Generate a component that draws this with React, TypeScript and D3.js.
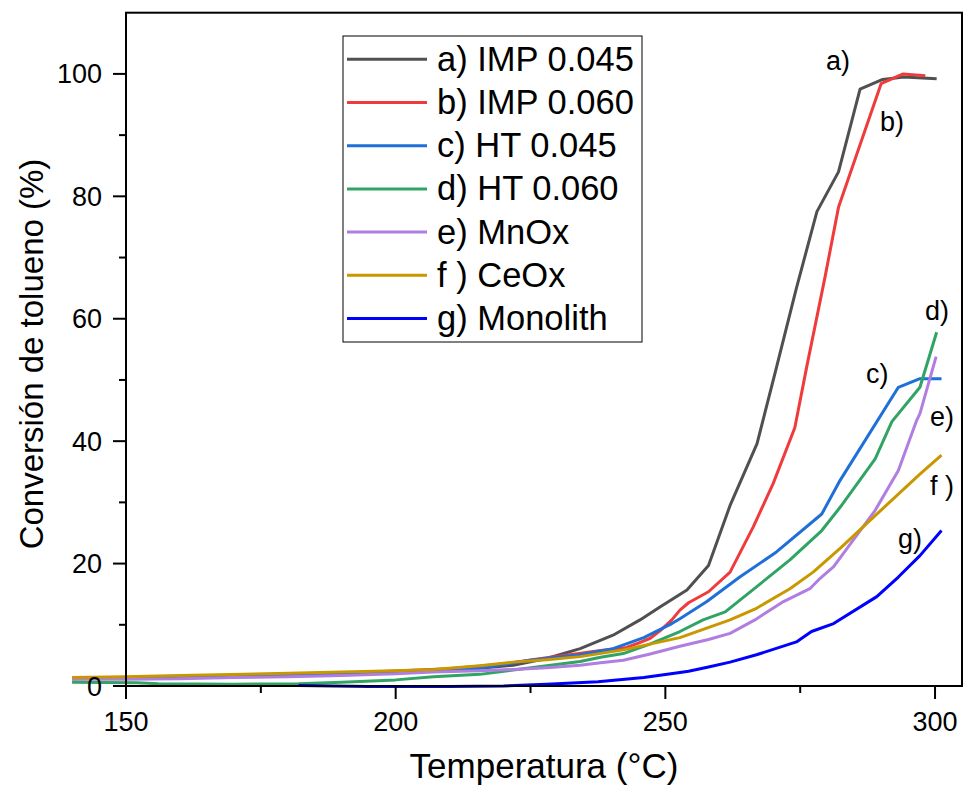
import React from "react";
import * as d3 from "d3";

const seriesNames = ["a) IMP 0.045", "b) IMP 0.060", "c) HT 0.045", "d) HT 0.060", "e) MnOx", "f ) CeOx", "g) Monolith"];
const seriesColors = ["#505050", "#ef3b3b", "#1f6fd9", "#30a465", "#b07ee0", "#c99700", "#0000ff"];
const curveLabels = ["a)", "b)", "c)", "d)", "e)", "f )", "g)"];

const tA = [140, 150, 160, 170, 180, 190, 200, 210, 215.6, 221.8, 228, 234.2, 240.3, 245.3, 249, 254, 258, 262, 267, 270.3, 274.3, 278.1, 282.1, 286.1, 290.3, 294.2, 300.3];
const vA = [1.2, 1.3, 1.5, 1.7, 1.9, 2.1, 2.3, 2.6, 2.9, 3.4, 4.5, 6.1, 8.3, 10.8, 12.9, 15.7, 19.7, 29.5, 39.6, 51, 65, 77.5, 84, 97.5, 99.1, 99.5, 99.2];

const tB = [140, 150, 170, 190, 210, 220, 228, 234, 238, 242.8, 245, 247.2, 249, 251.2, 252.7, 254.3, 258, 262, 266.3, 270, 274, 276.2, 279.6, 282.1, 290, 294.1, 298.2];
const vB = [1.2, 1.3, 1.7, 2.1, 2.8, 3.6, 4.6, 5.3, 5.8, 6.3, 7.0, 7.8, 9.0, 10.8, 12.4, 13.6, 15.4, 18.6, 26.0, 33.1, 42.2, 52.1, 66.8, 78.2, 98.4, 100.0, 99.7];

const tC = [140, 150, 170, 190, 210, 215.6, 224.9, 234.2, 240.3, 246, 251.2, 252.7, 257.7, 263.8, 270.6, 279, 282.4, 293.2, 297.2, 301.2];
const vC = [1.3, 1.4, 1.7, 2.1, 2.7, 2.9, 4.2, 5.1, 6.1, 7.9, 10.2, 11.0, 13.8, 17.8, 21.9, 28.1, 33.6, 48.8, 50.2, 50.2];

const tD = [140, 152, 156, 170, 182, 190, 200, 207, 215.6, 221.8, 228, 234.2, 238, 242.2, 247, 252.7, 257, 261.1, 266.9, 273.1, 279, 282.4, 288.9, 292, 297.2, 300.3];
const vD = [0.6, 0.55, 0.35, 0.3, 0.35, 0.6, 1.0, 1.5, 1.9, 2.6, 3.3, 4.0, 4.7, 5.3, 6.8, 8.9, 10.8, 12.1, 16.2, 20.6, 25.4, 29.2, 37.1, 43.2, 48.8, 57.8];

const tE = [140, 150, 160, 170, 180, 190, 200, 207, 215.6, 221.8, 228, 234.2, 238, 242.2, 247, 252.7, 258, 262, 266.6, 271.9, 276.8, 278.7, 281.2, 288.9, 293.2, 296.6, 297.2, 300.2];
const vE = [1.1, 1.1, 1.2, 1.4, 1.5, 1.7, 2.0, 2.3, 2.5, 2.7, 3.0, 3.4, 3.8, 4.2, 5.2, 6.5, 7.6, 8.6, 10.8, 13.8, 15.9, 17.6, 19.5, 28.7, 35.2, 43.4, 44.5, 53.8];

const tF = [140, 150, 160, 176, 190, 200, 207, 215.6, 221.8, 228, 234.2, 242.2, 252.7, 262, 266.9, 273.1, 277.4, 282.4, 288.6, 297.2, 301.2];
const vF = [1.4, 1.5, 1.7, 2.0, 2.3, 2.5, 2.7, 3.3, 3.9, 4.3, 4.8, 5.9, 7.9, 10.8, 12.7, 15.9, 18.6, 22.5, 27.6, 34.6, 37.7];

const tG = [182, 195, 210, 220, 228, 237.5, 246, 252.7, 254.3, 258, 262, 266.9, 274.3, 277.1, 281.2, 289.2, 293.2, 297.2, 301.2];
const vG = [0.1, -0.1, -0.1, 0.0, 0.3, 0.7, 1.4, 2.2, 2.4, 3.1, 3.9, 5.1, 7.2, 8.9, 10.2, 14.6, 17.8, 21.3, 25.4];

const temps = [tA, tB, tC, tD, tE, tF, tG];
const values = [vA, vB, vC, vD, vE, vF, vG];

const xMajor = [150, 200, 250, 300];
const xMinor = [175, 225, 275];
const yMajor = [0, 20, 40, 60, 80, 100];
const yMinor = [10, 30, 50, 70, 90];

const labelPos = [
  [826, 70], [880, 131], [866, 383], [925, 320], [930, 426], [930, 495], [898, 548],
];

const FONT = "'Liberation Sans', Arial, sans-serif";

export default function App() {
  const x = d3.scaleLinear().domain([150, 305]).range([126, 962]);
  const y = d3.scaleLinear().domain([0, 110]).range([686, 12.7]);
  const line = d3.line<[number, number]>().x((d) => x(d[0])).y((d) => y(d[1]));

  const legendX = 343, legendY = 36, legendW = 299, legendH = 306;
  const rowH = 43.2, firstRow = 59.3;

  return (
    <svg width={963} height={791} style={{ position: "absolute", left: 0, top: 0, background: "#fff" }} fontFamily={FONT}>
      <rect x={0} y={0} width={963} height={791} fill="#fff" />
      {temps.map((ts, i) => {
        const pts = ts.map((t, j) => [t, values[i][j]] as [number, number]);
        return <path key={i} d={line(pts) || ""} fill="none" stroke={seriesColors[i]} strokeWidth={3} strokeLinejoin="round" />;
      })}
      <rect x={x(150)} y={y(110)} width={x(305) - x(150)} height={y(0) - y(110)} fill="none" stroke="#000" strokeWidth={2} />
      {xMajor.map((t) => (
        <g key={"xm" + t}>
          <line x1={x(t)} x2={x(t)} y1={y(0)} y2={y(0) + 13} stroke="#000" strokeWidth={2} />
          <text x={x(t)} y={731} textAnchor="middle" fontSize={27}>{t}</text>
        </g>
      ))}
      {xMinor.map((t) => (
        <line key={"xn" + t} x1={x(t)} x2={x(t)} y1={y(0)} y2={y(0) + 7} stroke="#000" strokeWidth={2} />
      ))}
      {yMajor.map((v) => (
        <g key={"ym" + v}>
          <line x1={x(150) - 13} x2={x(150)} y1={y(v)} y2={y(v)} stroke="#000" strokeWidth={2} />
          <text x={102} y={y(v) + 9.5} textAnchor="end" fontSize={27}>{v}</text>
        </g>
      ))}
      {yMinor.map((v) => (
        <line key={"yn" + v} x1={x(150) - 7} x2={x(150)} y1={y(v)} y2={y(v)} stroke="#000" strokeWidth={2} />
      ))}
      <text x={544} y={778} textAnchor="middle" fontSize={35}>Temperatura (°C)</text>
      <text transform={`translate(43,354) rotate(-90)`} textAnchor="middle" fontSize={33}>Conversión de tolueno (%)</text>
      {curveLabels.map((l, i) => (
        <text key={"cl" + i} x={labelPos[i][0]} y={labelPos[i][1]} fontSize={27}>{l}</text>
      ))}
      <rect x={legendX} y={legendY} width={legendW} height={legendH} fill="#fff" stroke="#000" strokeWidth={1} />
      {seriesNames.map((n, i) => (
        <g key={"lg" + i}>
          <line x1={347} x2={427} y1={firstRow + i * rowH} y2={firstRow + i * rowH} stroke={seriesColors[i]} strokeWidth={3} />
          <text x={437} y={firstRow + i * rowH + 11.4} fontSize={34.5}>{n}</text>
        </g>
      ))}
    </svg>
  );
}
